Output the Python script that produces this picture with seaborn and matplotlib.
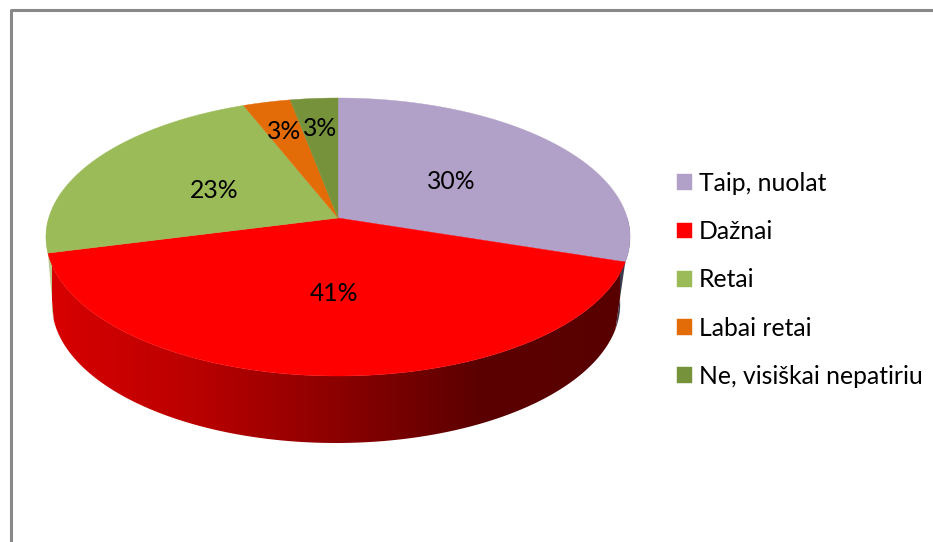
import numpy as np
import matplotlib
matplotlib.use('Agg')
import matplotlib.pyplot as plt
from matplotlib.patches import Polygon
import seaborn as sns

categories = ['Taip, nuolat', 'Dažnai', 'Retai', 'Labai retai', 'Ne, visiškai nepatiriu']
percent = [30, 41, 23, 3, 3]
colors = ['#B1A0C7', '#FF0000', '#9BBB59', '#E36C09', '#76933C']

# pixel geometry of the tilted pie
CX, CY = 338, 218
RX, RY = 289.3, 136.4
TILT = 0.1367
DEPTH = 67

sns.set_theme(style='white')
plt.rcParams['font.family'] = ['Lato', 'DejaVu Sans']


def project(theta, r=1.0, lower=False):
    # theta is clockwise from the top of the pie, in radians
    x = r * np.sin(theta)
    y = r * np.cos(theta)
    d = 1 + TILT * y
    if lower:
        return CX - 2 + 0.973 * RX * x / d, CY + DEPTH - RY * y / d
    return CX + RX * x / d, CY - RY * y / d


def arc(a, b, lower=False):
    t = np.linspace(a, b, 200)
    return np.column_stack(project(t, lower=lower))


fig = plt.figure(figsize=(9.33, 5.42), dpi=100)
ax = fig.add_axes([0, 0, 1, 1])

edges = np.radians(np.cumsum([0] + percent) / sum(percent) * 360)

# side wall, only the slices which face the viewer
side = sns.blend_palette(['#D80000', '#BA0000', '#8C0000', '#5C0000', '#580000'], as_cmap=True)
right = np.radians(90)
left = np.radians(270)

lilac_wall = np.vstack([arc(right, edges[1]), arc(right, edges[1], lower=True)[::-1]])
ax.add_patch(Polygon(lilac_wall, facecolor='#3B3A4C', edgecolor='none'))

green_wall = np.vstack([arc(edges[2], left), arc(edges[2], left, lower=True)[::-1]])
ax.add_patch(Polygon(green_wall, facecolor='#B9CC8E', edgecolor='none'))

red_wall = Polygon(np.vstack([arc(edges[1], edges[2]), arc(edges[1], edges[2], lower=True)[::-1]]),
                   facecolor='none', edgecolor='none')
ax.add_patch(red_wall)
img = ax.imshow(np.linspace(0, 1, 256).reshape(1, -1), cmap=side, aspect='auto',
                extent=[52, 620, 450, 240], zorder=1)
img.set_clip_path(red_wall)

# top face
for i in range(len(percent)):
    t = np.linspace(edges[i], edges[i + 1], 200)
    xs, ys = project(t)
    ax.fill(np.r_[CX, xs], np.r_[CY, ys], color=colors[i], lw=0.3, label=categories[i], zorder=2)

# data labels, the two small slices sit further out
label_r = [0.5, 0.5, 0.5, 0.75, 0.75]
for i in range(len(percent)):
    lx, ly = project((edges[i] + edges[i + 1]) / 2, r=label_r[i])
    ax.text(lx + 1, ly + 2.5, f'{percent[i]}%', ha='center', va='center', fontsize=17.8,
            color='black', zorder=3)

# chart frame, cut by the crop on right and bottom
ax.plot([10.5, 10.5, 933], [542, 10, 10], color='#898989', lw=2.2, zorder=0)

ax.legend(loc='upper left', bbox_to_anchor=(677 / 933, 1 - 172 / 542), frameon=False, fontsize=17.8,
          handlelength=0.6, handleheight=0.6, handletextpad=0.28, labelspacing=1.02,
          borderpad=0, borderaxespad=0, labelcolor='black')

ax.set_xlim(0, 933)
ax.set_ylim(542, 0)
ax.axis('off')

fig.savefig('out.png', dpi=100)
